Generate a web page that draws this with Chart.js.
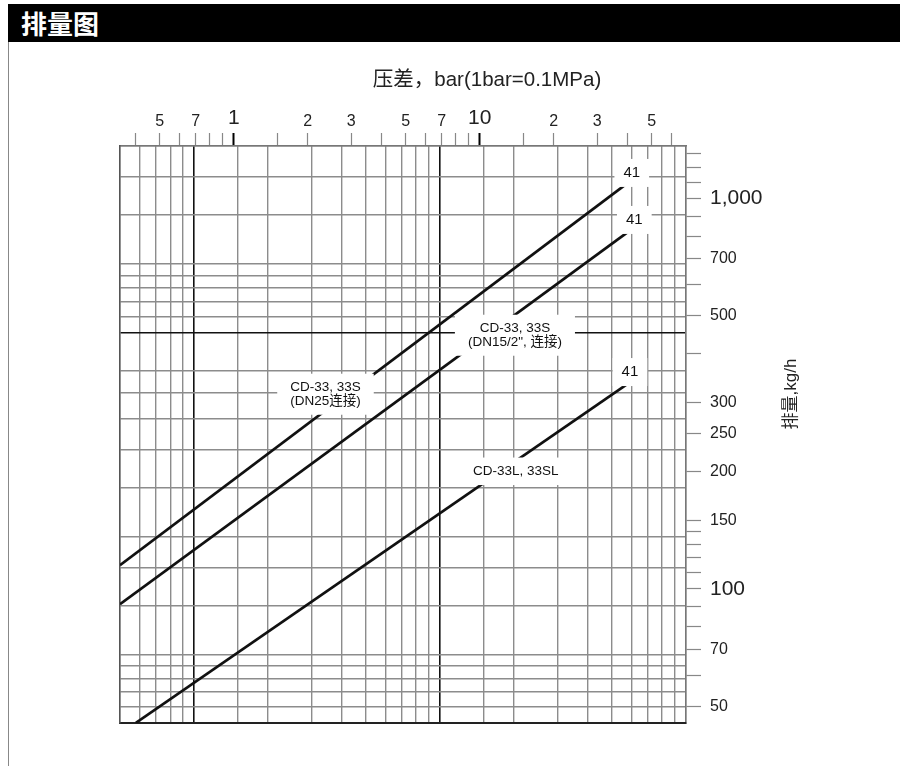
<!DOCTYPE html>
<html>
<head>
<meta charset="utf-8">
<script src="https://cdn.jsdelivr.net/npm/chart.js@4.4.0/dist/chart.umd.min.js"></script>
<style>
  body { margin: 0; background: #fff; }
  #wrap { position: relative; width: 900px; height: 766px; overflow: hidden; }
  #bar {
    position: absolute; left: 8px; top: 4px; width: 892px; height: 38px;
    background: #000; color: #fff; box-sizing: border-box; padding-left: 13px;
    font: bold 26px "Noto Sans CJK SC", sans-serif; line-height: 38px;
  }
  #edge { position: absolute; left: 8px; top: 4px; width: 1px; height: 762px; background: #888; }
  canvas { position: absolute; left: 0; top: 0; }
</style>
</head>
<body>
<div id="wrap">
  <canvas id="chart" width="900" height="766"></canvas>
  <div id="edge"></div>
  <div id="bar">排量图</div>
</div>
<script>
// eixo de cima: pressão diferencial (bar)
const barTicks = [0.4, 0.5, 0.6, 0.7, 0.8, 0.9, 1, 1.5, 2, 3, 4, 5, 6, 7, 8, 9, 10, 15, 20, 30, 40, 50, 60];
const barLabelValues = [0.5, 0.7, 1, 2, 3, 5, 7, 10, 20, 30, 50];
const barLabelText = ['5', '7', '1', '2', '3', '5', '7', '10', '2', '3', '5'];

// eixo da direita: vazão (kg/h)
const kgTicks = [50, 60, 70, 80, 90, 100, 110, 120, 130, 140, 150, 200, 250, 300, 400, 500, 600, 700, 800, 900, 1000, 1100, 1200, 1300];
const kgLabelValues = [50, 70, 100, 150, 200, 250, 300, 500, 700, 1000];
const kgLabelText = ['50', '70', '100', '150', '200', '250', '300', '500', '700', '1,000'];

// grade interna (psi / lb/h)
const psiGrid = [5, 6, 7, 8, 9, 10, 15, 20, 30, 40, 50, 60, 70, 80, 90, 100, 150, 200, 300, 400, 500, 600, 700, 800, 900, 1000];
const lbGrid = [100, 110, 120, 130, 140, 150, 200, 250, 300, 400, 500, 600, 700, 800, 1000, 1100, 1200, 1300, 1400, 1500, 2000, 2500, 3000];

// curvas
const pressureDN25 = [0.3447, 41];
const flowDN25 = [115, 1108];
const pressureDN15 = [0.3447, 41];
const flowDN15 = [91.4, 829];
const pressureL = [0.4, 41];
const flowL = [45.4, 339];

// textos sobre o gráfico
const noteLines = [['CD-33, 33S', '(DN25连接)'], ['CD-33, 33S', '(DN15/2", 连接)'], ['CD-33L, 33SL'], ['41'], ['41'], ['41']];
const noteBar = [2.36, 13.9, 14.0, 41.5, 42.5, 40.8];
const noteKg = [315, 446, 200, 1161, 880, 359];

const FONT = '"Liberation Sans", Arial, "Noto Sans CJK SC", sans-serif';
const PSI = 0.0689476;   // bar por psi
const LB = 0.45359237;   // kg por lb

const toPoints = (xs, ys) => xs.map((v, i) => ({ x: v, y: ys[i] }));

const notesPlugin = {
  id: 'notes',
  afterDatasetsDraw(chart) {
    const { ctx, scales: { x, y } } = chart;
    ctx.save();
    noteLines.forEach((lines, i) => {
      const cx = x.getPixelForValue(noteBar[i]);
      const cy = y.getPixelForValue(noteKg[i]);
      const small = lines[0] === '41';
      ctx.font = (small ? '15px ' : '13.5px ') + FONT;
      const lh = small ? 16 : 13.5;
      const w = Math.max(...lines.map(t => ctx.measureText(t).width)) + (small ? 18 : 26);
      const h = lines.length * lh + (small ? 12 : 14);
      ctx.fillStyle = '#fff';
      ctx.fillRect(cx - w / 2, cy - h / 2, w, h);
      ctx.fillStyle = '#111';
      ctx.textAlign = 'center';
      ctx.textBaseline = 'middle';
      lines.forEach((t, k) => {
        ctx.fillText(t, cx, cy + (k - (lines.length - 1) / 2) * lh);
      });
    });
    ctx.restore();
  }
};

const titlesPlugin = {
  id: 'titles',
  afterDraw(chart) {
    const { ctx } = chart;
    ctx.save();
    ctx.fillStyle = '#222';
    ctx.textAlign = 'center';
    ctx.textBaseline = 'middle';
    ctx.font = '20.5px ' + FONT;
    ctx.fillText('压差，bar(1bar=0.1MPa)', 487, 80);
    ctx.translate(791, 394);
    ctx.rotate(-Math.PI / 2);
    ctx.font = '17px ' + FONT;
    ctx.fillText('排量,kg/h', 0, 0);
    ctx.restore();
  }
};

const lineStyle = { borderColor: '#111', borderWidth: 2.7, pointRadius: 0, showLine: true, fill: false, xAxisID: 'x', yAxisID: 'y' };

new Chart(document.getElementById('chart'), {
  type: 'scatter',
  data: {
    datasets: [
      { label: 'CD-33, 33S (DN25)', data: toPoints(pressureDN25, flowDN25), ...lineStyle },
      { label: 'CD-33, 33S (DN15)', data: toPoints(pressureDN15, flowDN15), ...lineStyle },
      { label: 'CD-33L, 33SL', data: toPoints(pressureL, flowL), ...lineStyle }
    ]
  },
  options: {
    responsive: false,
    animation: false,
    devicePixelRatio: 1,
    layout: { padding: { top: 102, right: 130, bottom: 43, left: 120 } },
    plugins: { legend: { display: false }, tooltip: { enabled: false } },
    scales: {
      x: {
        type: 'logarithmic',
        position: 'top',
        bounds: 'data',
        min: 5 * PSI,
        max: 1000 * PSI,
        afterBuildTicks: axis => { axis.ticks = barTicks.map(v => ({ value: v })); },
        afterFit: axis => { axis.height = 44; },
        ticks: {
          autoSkip: false,
          maxRotation: 0,
          padding: 2,
          color: '#222',
          font: c => ({ family: FONT, size: (c.tick && (c.tick.value === 1 || c.tick.value === 10)) ? 21 : 16 }),
          callback: v => { const i = barLabelValues.indexOf(v); return i >= 0 ? barLabelText[i] : ''; }
        },
        grid: {
          drawOnChartArea: false,
          tickLength: 13,
          tickColor: c => (c.tick && (c.tick.value === 1 || c.tick.value === 10)) ? '#000' : '#888',
          tickWidth: c => (c.tick && (c.tick.value === 1 || c.tick.value === 10)) ? 2 : 1.2
        },
        border: { display: true, color: '#777', width: 1.5 }
      },
      y: {
        type: 'logarithmic',
        position: 'right',
        bounds: 'data',
        min: 100 * LB,
        max: 3000 * LB,
        afterBuildTicks: axis => { axis.ticks = kgTicks.map(v => ({ value: v })); },
        afterFit: axis => { axis.width = 84; },
        ticks: {
          autoSkip: false,
          padding: 9,
          color: '#222',
          font: c => ({ family: FONT, size: (c.tick && (c.tick.value === 100 || c.tick.value === 1000)) ? 21 : 16 }),
          callback: v => { const i = kgLabelValues.indexOf(v); return i >= 0 ? kgLabelText[i] : ''; }
        },
        grid: { drawOnChartArea: false, tickLength: 15, tickColor: '#888', tickWidth: 1.2 },
        border: { display: true, color: '#777', width: 1.5 }
      },
      xg: {
        type: 'logarithmic',
        position: 'bottom',
        bounds: 'data',
        min: 5,
        max: 1000,
        afterBuildTicks: axis => { axis.ticks = psiGrid.map(v => ({ value: v })); },
        afterFit: axis => { axis.height = 0; },
        ticks: { display: false },
        grid: {
          drawTicks: false,
          tickLength: 0,
          color: c => (c.tick && (c.tick.value === 10 || c.tick.value === 100)) ? '#111' : '#8c8c8c',
          lineWidth: c => (c.tick && (c.tick.value === 10 || c.tick.value === 100)) ? 1.6 : 1.4
        },
        border: { display: true, color: '#222', width: 2 }
      },
      yg: {
        type: 'logarithmic',
        position: 'left',
        bounds: 'data',
        min: 100,
        max: 3000,
        afterBuildTicks: axis => { axis.ticks = lbGrid.map(v => ({ value: v })); },
        afterFit: axis => { axis.width = 0; },
        ticks: { display: false },
        grid: {
          drawTicks: false,
          tickLength: 0,
          color: c => (c.tick && c.tick.value === 1000) ? '#111' : '#8c8c8c',
          lineWidth: c => (c.tick && c.tick.value === 1000) ? 1.6 : 1.4
        },
        border: { display: true, color: '#555', width: 1.5 }
      }
    }
  },
  plugins: [notesPlugin, titlesPlugin]
});
</script>
</body>
</html>
